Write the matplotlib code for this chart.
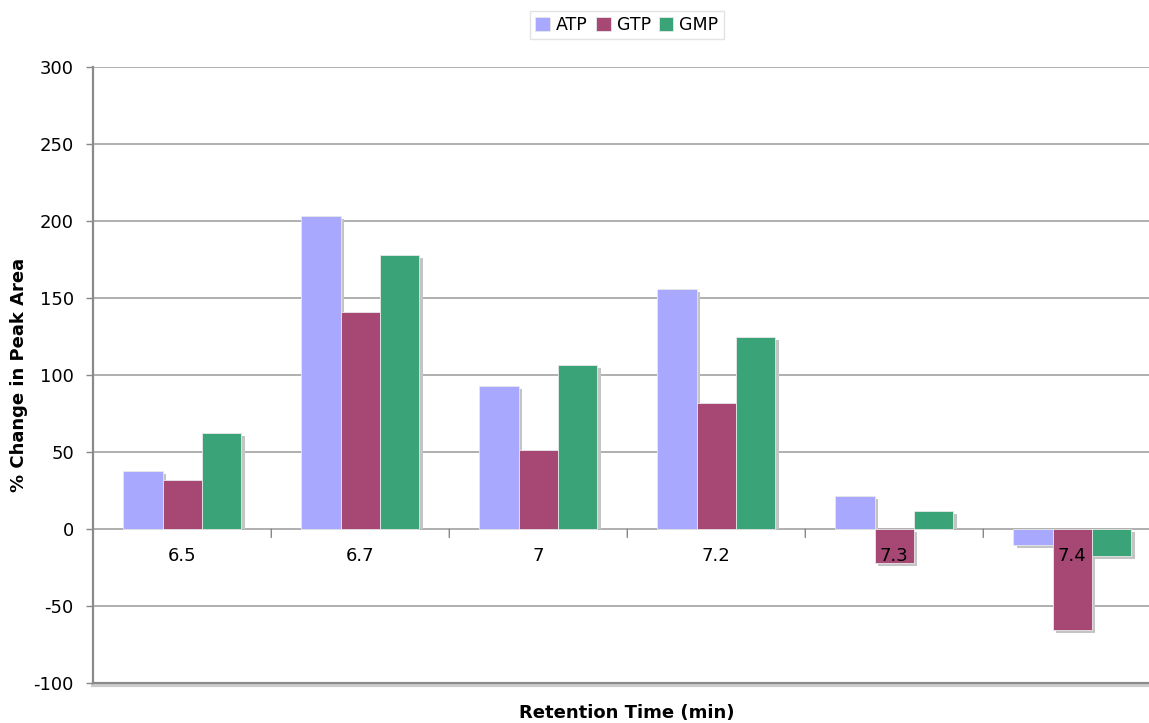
import numpy as np
import matplotlib
matplotlib.use("Agg")
import matplotlib.pyplot as plt
from matplotlib.transforms import ScaledTranslation

# Retention-time categories and % change in peak area per nucleotide
categories = ["6.5", "6.7", "7", "7.2", "7.3", "7.4"]
atp = [38.0, 203.4, 92.6, 156.0, 21.2, -10.4]
gtp = [31.8, 140.6, 51.3, 81.6, -22.1, -65.4]
gmp = [62.1, 177.9, 106.2, 124.9, 11.9, -17.1]
series_names = ["ATP", "GTP", "GMP"]
series_colors = ["#A8A9FE", "#A64873", "#3AA377"]
y_ticks = [-100, -50, 0, 50, 100, 150, 200, 250, 300]

plt.rcParams["font.family"] = ["DejaVu Sans"]
FS = 13

fig = plt.figure(figsize=(11.49, 7.23), dpi=100)
# plot area runs past the right edge of the canvas
ax = fig.add_axes([93.3 / 1149, 1 - 683.3 / 723, 1068 / 1149, 616.6 / 723])

n = len(categories)
x = np.arange(n) + 0.5
bw = 0.221
ax.set_xlim(0, n)
ax.set_ylim(-100, 300)

# drop shadow: 3 px to the right and 3 px down
px_per_unit = ax.get_position().height * 723 / 400.0
sh = 3 / px_per_unit
right_shift = ax.transData + ScaledTranslation(3.5 / 100, 0, fig.dpi_scale_trans)

for i, (vals, color) in enumerate(zip([atp, gtp, gmp], series_colors)):
    pos = x + (i - 1) * bw
    vals = np.asarray(vals)
    bottoms = np.where(vals >= 0, 0.0, -sh)
    heights = vals - sh - bottoms
    ax.bar(pos, heights, bottom=bottoms, width=bw, color="#C4C4C4", zorder=2,
           transform=right_shift)
    ax.bar(pos, vals, width=bw, color=color, zorder=3, label=series_names[i],
           edgecolor="#E8E8E8", linewidth=0.6)

ax.set_yticks(y_ticks)
ax.set_yticklabels([str(v) for v in y_ticks], fontsize=FS)
ax.tick_params(axis="y", length=5, width=1, color="#888888", pad=9)

# horizontal gridlines
for v in y_ticks[1:]:
    ax.axhline(v, color="#9A9A9A", linewidth=1.1, zorder=1)
# bottom frame line with a soft shadow beneath it
ytf = ax.get_yaxis_transform()
ax.plot([0, 1], [-100, -100], color="#CCCCCC", linewidth=3, zorder=1, clip_on=False,
        transform=ytf + ScaledTranslation(0, -2 / 100, fig.dpi_scale_trans))
ax.plot([0, 1], [-100, -100], color="#8A8A8A", linewidth=1.6, zorder=4,
        clip_on=False, transform=ytf)

for s in ["top", "right", "bottom"]:
    ax.spines[s].set_visible(False)
ax.spines["left"].set_color("#8A8A8A")
ax.spines["left"].set_linewidth(1.6)
ax.spines["left"].set_zorder(4)

# category axis drawn along zero
ax.set_xticks([])
for b in range(1, n):
    ax.annotate("", xy=(b, 0), xytext=(0, -6), textcoords="offset points",
                arrowprops=dict(arrowstyle="-", color="#888888", lw=1,
                                shrinkA=0, shrinkB=0))
for xi, lab in zip(x, categories):
    ax.annotate(lab, xy=(xi, 0), xytext=(0, -27), textcoords="offset pixels",
                ha="center", va="center", fontsize=FS, zorder=6)

ax.set_ylabel("% Change in Peak Area", fontsize=FS, fontweight="bold")
ax.yaxis.set_label_coords(-0.061, 0.5)
fig.text(627 / 1149, 1 - 713 / 723, "Retention Time (min)", ha="center", va="center",
         fontsize=FS, fontweight="bold")

leg = fig.legend(loc="center", bbox_to_anchor=(627 / 1149, 1 - 25 / 723), ncol=3,
                 fontsize=12.5, frameon=True, fancybox=False, handlelength=0.85,
                 handleheight=0.85, handletextpad=0.35, columnspacing=0.45,
                 borderpad=0.3, borderaxespad=0)
leg.get_frame().set_edgecolor("#DDDDDD")
leg.get_frame().set_linewidth(1)

fig.savefig("out.png", dpi=100)
